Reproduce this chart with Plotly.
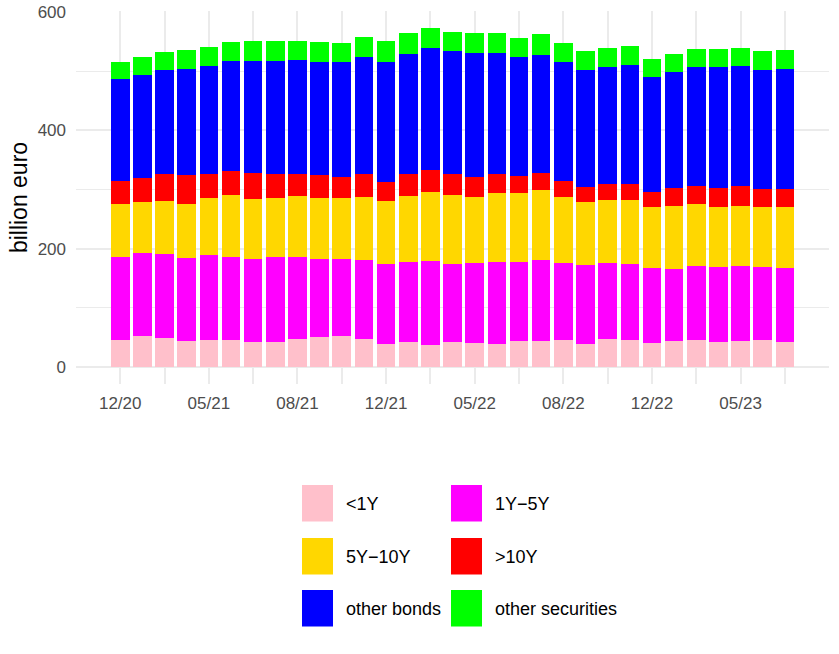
import plotly.graph_objects as go

# Hodnoty (mld. EUR), 31 období
lt_1y = [46, 52, 49, 44, 45.7, 45.7, 41.7, 43, 47.4, 51, 52.5, 46.8, 39, 42.3, 37.8, 42.9,
         41.2, 39, 44, 44.6, 45.7, 39.5, 47.4, 45.7, 41.2, 44.6, 45.7, 42.9, 44, 45.7, 42.9]
y1_5 = [139.5, 140, 141.6, 140.4, 143.8, 140.3, 139.9, 142, 137.6, 130.6, 130.2, 133.2, 135, 135.7, 141, 130.8,
        134.8, 138.7, 134.2, 135.4, 130.3, 132.5, 128.6, 128, 126.3, 121.2, 125.3, 125.7, 127, 122.9, 123.5]
y5_10 = [89.5, 87, 89.4, 90.6, 95.5, 105, 102.4, 101, 104, 104.4, 102.1, 107.6, 106, 111, 116.7, 116.3,
         111, 116.7, 116.2, 118.4, 111.6, 106, 106.6, 107.7, 103.2, 106.2, 103.7, 102.1, 101.4, 102.1, 103.2]
gt_10y = [40, 41, 46, 49, 41.6, 39.5, 43, 40.6, 37, 38, 36.7, 37.8, 33, 37.6, 37.5, 35.4,
          33.4, 31, 28.6, 28.6, 27.1, 26.6, 27.4, 28.6, 25.3, 29.7, 31, 32.2, 33.3, 30.3, 31.4]
other_bonds = [171, 173.5, 176, 179.6, 182, 186.5, 190, 191.2, 192, 191.5, 193.5, 199, 202, 202, 205.6, 208.2,
               209.6, 205.9, 200.4, 201, 200.3, 197.4, 197, 201, 194.7, 197.3, 200.8, 204.1, 203, 201.5, 202.6]
other_sec = [30, 30.5, 31, 31.4, 32.3, 32, 33.5, 33.2, 33.6, 33.3, 33, 34, 35, 35, 34.4, 33.2,
             33.5, 33.7, 32.1, 33.8, 33, 31.5, 32, 31, 30.3, 30.6, 30.5, 31, 31.1, 31, 32.8]

periods = list(range(len(lt_1y)))
tick_pos = [0, 4, 8, 12, 16, 20, 24, 28]
tick_labels = ["12/20", "05/21", "08/21", "12/21", "05/22", "08/22", "12/22", "05/23"]

series = [
    ("<1Y", lt_1y, "#FFC0CB"),
    ("1Y\u22125Y", y1_5, "#FF00FF"),
    ("5Y\u221210Y", y5_10, "#FFD700"),
    (">10Y", gt_10y, "#FF0000"),
    ("other bonds", other_bonds, "#0000FF"),
    ("other securities", other_sec, "#00FF00"),
]

FONT = "Liberation Sans, Arial, sans-serif"

fig = go.Figure()
for name, vals, col in series:
    fig.add_trace(go.Bar(x=periods, y=vals, name=name, marker=dict(color=col, line=dict(width=0)),
                         width=0.84, showlegend=False))

# Rozměry panelu v pixelech
W, H = 839, 654
L, R, T, B = 76, 10, 11, 270
pw, ph = W - L - R, H - T - B

def px(x):
    return (x - L) / pw

def py(y):
    return (H - B - y) / ph

# Ruční legenda 2x3
cols_x = [302, 451]
rows_y = [485, 538, 590]
for i, (name, vals, col) in enumerate(series):
    cx = cols_x[i % 2]
    ry = rows_y[i // 2]
    fig.add_shape(type="rect", xref="paper", yref="paper",
                  x0=px(cx), x1=px(cx + 31), y0=py(ry + 36.5), y1=py(ry),
                  fillcolor=col, line=dict(width=0))
    fig.add_annotation(xref="paper", yref="paper", x=px(cx + 42), y=py(ry + 18.5),
                       text=name, showarrow=False, xanchor="left", yanchor="middle",
                       font=dict(family=FONT, size=18, color="black"))

fig.update_layout(
    barmode="stack",
    width=W, height=H,
    margin=dict(l=L, r=R, t=T, b=B, autoexpand=False),
    plot_bgcolor="white", paper_bgcolor="white",
    xaxis=dict(range=[-1.995, 31.99], tickmode="array", tickvals=tick_pos, ticktext=tick_labels,
               showgrid=True, gridcolor="#ebebeb", gridwidth=1.5, zeroline=False, showline=False,
               ticks="", ticklabelstandoff=7, automargin=False,
               tickfont=dict(family=FONT, size=17, color="#4d4d4d"),
               minor=dict(tickvals=[2, 6, 10, 14, 18, 22, 26, 30], showgrid=True,
                          gridcolor="#ebebeb", gridwidth=1.5)),
    yaxis=dict(range=[-28.8, 601.5], tickvals=[0, 200, 400, 600],
               showgrid=True, gridcolor="#ebebeb", gridwidth=1.8, zeroline=False, showline=False,
               ticks="", ticklabelstandoff=9, automargin=False,
               tickfont=dict(family=FONT, size=17, color="#4d4d4d"),
               minor=dict(tickvals=[100, 300, 500], showgrid=True, gridcolor="#ebebeb", gridwidth=1),
               title=dict(text="billion euro", standoff=3,
                          font=dict(family=FONT, size=23, color="black"))),
)

fig.write_html("out.html", config={"displayModeBar": False},
               post_script="document.body.style.margin='0';")
